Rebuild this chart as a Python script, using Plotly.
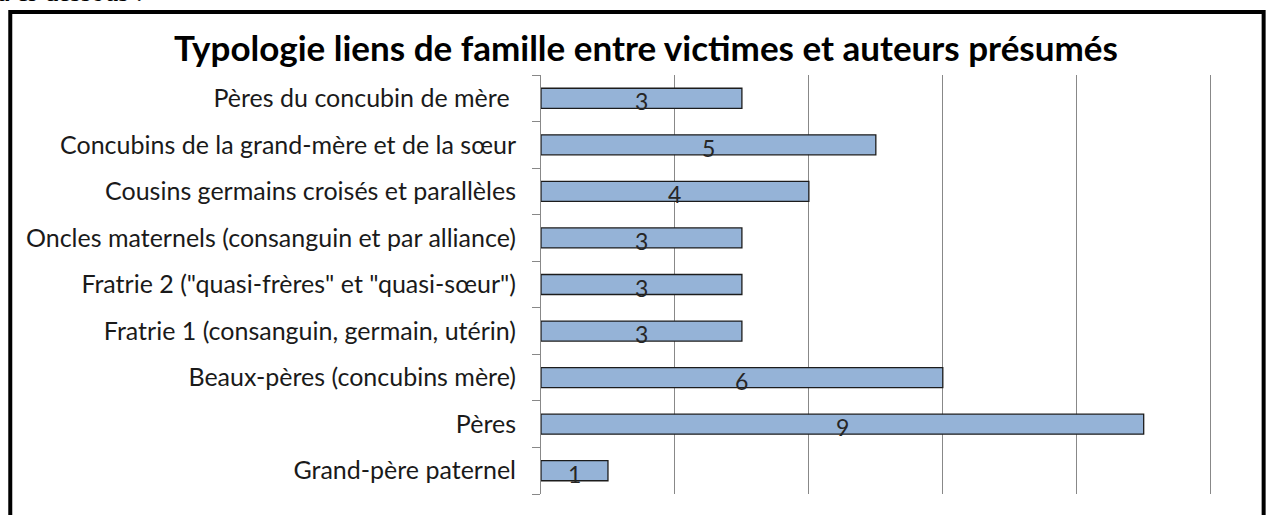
import plotly.graph_objects as go

categories = [
    "Grand-père paternel",
    "Pères",
    "Beaux-pères (concubins mère)",
    "Fratrie 1 (consanguin, germain, utérin)",
    "Fratrie 2 (\"quasi-frères\" et \"quasi-sœur\")",
    "Oncles maternels (consanguin et par alliance)",
    "Cousins germains croisés et parallèles",
    "Concubins de la grand-mère et de la sœur",
    "Pères du concubin de mère\u00a0",
]
values = [1, 9, 6, 3, 3, 3, 4, 5, 3]
x_ticks = [0, 2, 4, 6, 8, 10]
title_text = "Typologie liens de famille entre victimes et auteurs présumés"
top_text = "la ci-dessous :"

W, H = 1270, 515
X_MAX = 10.02
L, T, B = 541, 75, 494
R = L + 670 * X_MAX / 10
pw, ph = R - L, B - T

def px_x(p):
    return (p - L) / pw

def px_y(p):
    return (B - p) / ph

fig = go.Figure()
fig.add_trace(go.Bar(
    y=categories, x=values, orientation="h",
    marker=dict(color="#95B3D7", line=dict(color="#1c1c1c", width=1.3)),
    hoverinfo="skip",
))

for c, v in zip(categories, values):
    fig.add_annotation(x=v / 2, y=c, xref="x", yref="y", text=str(v),
                       showarrow=False, yshift=-3,
                       font=dict(family="Lato", size=23, color="#262626"))

fig.add_annotation(x=px_x(-12), y=px_y(9), xref="paper", yref="paper",
                   text=top_text, showarrow=False, xanchor="left", yanchor="bottom",
                   font=dict(family="Liberation Serif", size=27, color="#000000"))

fig.add_annotation(x=px_x(646), y=px_y(47), xref="paper", yref="paper",
                   text="<b>" + title_text + "</b>", showarrow=False,
                   xanchor="center", yanchor="middle",
                   font=dict(family="Lato", size=35, color="#000000"))

fig.add_shape(type="rect", xref="paper", yref="paper",
              x0=px_x(10), x1=px_x(1264), y0=px_y(540), y1=px_y(12),
              line=dict(color="#000000", width=4), fillcolor="rgba(0,0,0,0)",
              layer="above")

fig.update_layout(
    width=W, height=H,
    margin=dict(l=L, r=W - R, t=T, b=H - B, pad=0, autoexpand=False),
    paper_bgcolor="white", plot_bgcolor="white",
    bargap=0.57, showlegend=False,
    xaxis=dict(range=[0, X_MAX], tickvals=x_ticks, showticklabels=False,
               showgrid=True, gridcolor="#888888", gridwidth=1,
               zeroline=False, showline=False, fixedrange=True),
    yaxis=dict(showline=True, linecolor="#888888", linewidth=1,
               ticks="outside", ticklen=8, tickcolor="#888888", tickson="boundaries",
               showgrid=False, ticklabelstandoff=19, automargin=False,
               tickfont=dict(family="Lato", size=25, color="#1a1a1a"),
               fixedrange=True),
)

fig.write_html("out.html", config={"displayModeBar": False},
               post_script="document.body.style.margin='0';")
